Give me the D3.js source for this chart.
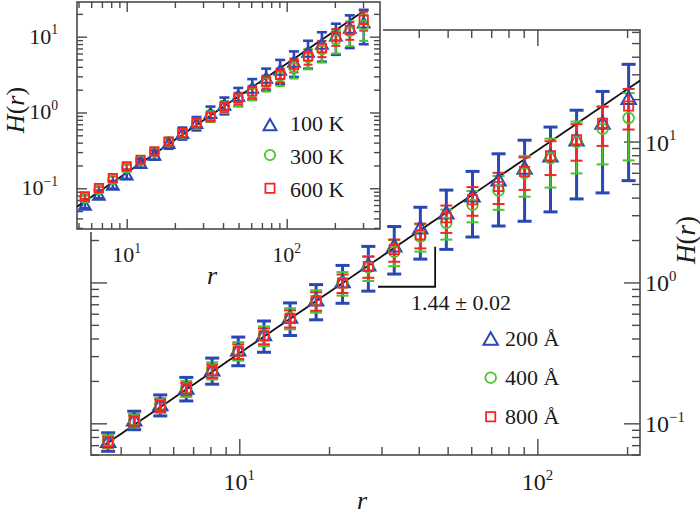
<!DOCTYPE html>
<html><head><meta charset="utf-8">
<script src="https://cdn.jsdelivr.net/npm/d3@7"></script>
<style>
body{margin:0;background:#fff}
svg{display:block}
text{font-family:"Liberation Serif","Times New Roman",serif;fill:#1a1a1a}
</style></head><body>
<svg id="c" width="700" height="514"></svg>
<script>
// ---------------- data ----------------
const mainR   = [3.63,4.44,5.43,6.64,8.11,9.92,12.1,14.8,18.1,22.2,27.1,33.1,40.5,49.5,60.6,74.1,90.6,110.7,135.4,165.5,202.4];
const main200 = [0.0745,0.106,0.136,0.178,0.240,0.333,0.426,0.568,0.754,1.016,1.335,1.82,2.44,3.12,4.12,5.35,6.47,7.92,10.3,13.5,20.3];
const main400 = [0.075,0.105,0.135,0.177,0.238,0.328,0.420,0.560,0.745,0.995,1.28,1.65,2.12,2.65,3.56,4.49,5.97,7.6,9.9,12.3,14.7];
const main800 = [0.074,0.104,0.134,0.176,0.236,0.325,0.418,0.556,0.740,0.990,1.30,1.71,2.18,2.88,3.86,4.80,6.13,7.92,10.3,13.5,17.9];
const main200Err = [0.15,0.15,0.17,0.19,0.21,0.23,0.25,0.26,0.28,0.30,0.35,0.37,0.40,0.45,0.49,0.53,0.58,0.60,0.62,0.68,0.74];
const main400Err = [0.11,0.11,0.12,0.13,0.14,0.15,0.16,0.17,0.18,0.19,0.20,0.21,0.22,0.24,0.25,0.27,0.32,0.38,0.40,0.44,0.50];
const main800Err = [0.09,0.09,0.10,0.10,0.11,0.12,0.13,0.14,0.15,0.15,0.17,0.18,0.20,0.22,0.23,0.25,0.26,0.27,0.29,0.31,0.32];
const mainLegend = ["200 Å","400 Å","800 Å"];

const insetR   = [5.48,6.70,8.19,10.0,12.2,14.9,18.3,22.3,27.3,33.4,40.8,49.8,60.9,74.4,91.0,111,136,166,203,248,303];
const inset100 = [0.0606,0.082,0.111,0.151,0.215,0.277,0.395,0.535,0.725,0.98,1.26,1.66,2.12,2.87,3.66,4.67,6.31,8.06,10.3,13.1,15.3];
const inset300 = [0.074,0.096,0.130,0.185,0.232,0.300,0.410,0.530,0.720,0.90,1.20,1.52,1.85,2.48,3.02,3.9,5.3,6.7,9.1,11.7,14.2];
const inset600 = [0.078,0.1006,0.136,0.194,0.238,0.306,0.414,0.535,0.725,0.886,1.20,1.55,1.89,2.56,3.14,4.26,5.48,7.08,10.1,12.3,16.7];
const inset100Err = [0.10,0.10,0.11,0.12,0.13,0.14,0.16,0.18,0.20,0.22,0.25,0.27,0.30,0.32,0.35,0.37,0.40,0.42,0.44,0.46,0.48];
const inset300Err = [0.08,0.08,0.09,0.10,0.11,0.12,0.13,0.14,0.15,0.17,0.18,0.20,0.22,0.24,0.26,0.28,0.30,0.32,0.34,0.36,0.38];
const inset600Err = [0.07,0.07,0.08,0.08,0.09,0.10,0.11,0.12,0.13,0.14,0.15,0.17,0.18,0.19,0.20,0.21,0.22,0.24,0.25,0.26,0.28];
const insetLegend = ["100 K","300 K","600 K"];

const fitExponent = 1.44;
const mainFit  = [0.0114, 3.55, 221];   // prefactor, r start, r end
const insetFit = [0.00582, 4.89, 296];
const slopeLabel = "1.44 ± 0.02";
const bracketR = [29.2, 45.4];          // horizontal extent (r)
const bracketH = [0.932, 1.79];         // bottom, top (H)

const xMajor = [10,100];
const yMajor = [0.1,1,10];
const xExp = ["1","2"];
const yExp = ["−1","0","1"];

// ---------------- style ----------------
const BLUE="#2a48b4", GREEN="#4cc42c", RED="#f22626", AX="#4a4a4a";
const svg=d3.select("#c");

function minorTicks(lo,hi){
  const out=[];
  for(let e=-3;e<=3;e++){for(let m=2;m<=9;m++){const v=m*Math.pow(10,e); if(v>=lo&&v<=hi) out.push(v);}}
  return out;
}
function supText(g,x,y,base,exp,anchor,size){
  const t=g.append("text").attr("x",x).attr("y",y).attr("text-anchor",anchor).style("font-size",size+"px");
  t.append("tspan").text(base);
  t.append("tspan").attr("dy",-size*0.42).style("font-size",(size*0.62)+"px").text(exp);
  return t;
}
function hlabel(g,x,y,size,rot){
  const t=g.append("text").attr("transform",`translate(${x},${y}) rotate(${rot})`).attr("text-anchor","middle").style("font-size",size+"px");
  t.append("tspan").style("font-style","italic").text("H");
  t.append("tspan").text("(");
  t.append("tspan").style("font-style","italic").text("r");
  t.append("tspan").text(")");
}

function panel(cfg){
  const g=svg.append("g");
  const x=d3.scaleLog().domain(cfg.xd).range(cfg.xr);
  const y=d3.scaleLog().domain(cfg.yd).range(cfg.yr);
  const [x0,x1]=cfg.xr, [y1,y0]=cfg.yr;
  const id="clip"+cfg.name;
  g.append("clipPath").attr("id",id).append("rect").attr("x",x0).attr("y",y0).attr("width",x1-x0).attr("height",y1-y0);

  // axes (ticks inward on all sides)
  const xmin=minorTicks(cfg.xd[0],cfg.xd[1]), ymin=minorTicks(cfg.yd[0],cfg.yd[1]);
  const mkAx=i=>{ if(i==0) return d3.axisBottom(x); if(i==1) return d3.axisTop(x); if(i==2) return d3.axisLeft(y); return d3.axisRight(y);};
  const sides=[
    [`translate(0,${y1})`,xMajor,xmin],
    [`translate(0,${y0})`,xMajor,xmin],
    [`translate(${x0},0)`,yMajor,ymin],
    [`translate(${x1},0)`,yMajor,ymin]
  ];
  sides.forEach(([tr,maj,mn],i)=>{
    [[maj,cfg.major],[mn,cfg.minor]].forEach(([vals,len])=>{
      const a=g.append("g").attr("transform",tr).call(mkAx(i).tickValues(vals).tickSize(-len).tickFormat(""));
      a.select(".domain").remove();
      a.selectAll("line").attr("stroke",AX).attr("stroke-width",1.4);
    });
  });
  g.append("rect").attr("x",x0).attr("y",y0).attr("width",x1-x0).attr("height",y1-y0)
    .attr("fill","none").attr("stroke",AX).attr("stroke-width",1.6);

  // fit line
  const fr=d3.range(0,101).map(i=>cfg.fit[1]*Math.pow(cfg.fit[2]/cfg.fit[1],i/100));
  g.append("path").attr("clip-path",`url(#${id})`)
    .attr("d",d3.line().x(r=>x(r)).y(r=>y(cfg.fit[0]*Math.pow(r,fitExponent)))(fr))
    .attr("fill","none").attr("stroke","#111").attr("stroke-width",cfg.lw);

  // error bars
  const ser=cfg.series;
  ser.forEach(s=>{
    const eg=g.append("g").attr("stroke",s.color).attr("stroke-width",s.bw).attr("clip-path",`url(#${id})`);
    cfg.r.forEach((r,i)=>{
      const v=s.v[i], e=s.e[i]*v, xx=x(r), ya=y(v+e), yb=y(Math.max(v-e,1e-6));
      eg.append("line").attr("x1",xx).attr("x2",xx).attr("y1",ya).attr("y2",yb);
      eg.append("line").attr("x1",xx-s.cap/2).attr("x2",xx+s.cap/2).attr("y1",ya).attr("y2",ya);
      eg.append("line").attr("x1",xx-s.cap/2).attr("x2",xx+s.cap/2).attr("y1",yb).attr("y2",yb);
    });
  });
  // markers
  ser.forEach(s=>{
    const sym=d3.symbol().type(s.shape).size(s.size);
    g.append("g").selectAll("path").data(cfg.r).join("path")
      .attr("transform",(r,i)=>`translate(${x(r)},${y(s.v[i])+(s.shape===d3.symbolTriangle?1.5:0)})`)
      .attr("d",sym()).attr("fill","none").attr("stroke",s.color).attr("stroke-width",s.mw);
  });
  return {g,x,y};
}

// ---------------- main panel ----------------
const mainSeries=[
  {v:main200,e:main200Err,color:BLUE,bw:3,cap:14,shape:d3.symbolTriangle,size:90,mw:2},
  {v:main400,e:main400Err,color:GREEN,bw:2,cap:12,shape:d3.symbolCircle,size:90,mw:1.8},
  {v:main800,e:main800Err,color:RED,bw:2,cap:12,shape:d3.symbolSquare,size:85,mw:1.8}
];
const M=panel({name:"m",xd:[3.18,221],xr:[91,640],yd:[0.0596,61.9],yr:[455,30],
  r:mainR,series:mainSeries,fit:mainFit,major:16,minor:8,lw:1.8});

// main tick labels
xMajor.forEach((v,i)=>supText(M.g,M.x(v),490,"10",xExp[i],"middle",24));
yMajor.forEach((v,i)=>supText(M.g,645,M.y(v)+9,"10",yExp[i],"start",24));
M.g.append("text").attr("x",362).attr("y",509).attr("text-anchor","middle").style("font-size","26px").style("font-style","italic").text("r");
hlabel(M.g,695,240,27,-90);

// slope bracket + label
M.g.append("path").attr("d",`M${M.x(bracketR[0])},${M.y(bracketH[0])}H${M.x(bracketR[1])}V${M.y(bracketH[1])}`)
  .attr("fill","none").attr("stroke","#111").attr("stroke-width",1.8);
M.g.append("text").attr("x",411).attr("y",310).style("font-size","22px").text(slopeLabel);

// main legend
mainSeries.forEach((s,i)=>{
  const cy=[339,377.7,416.7][i];
  M.g.append("path").attr("transform",`translate(490.7,${cy+(i==0?1.5:0)})`).attr("d",d3.symbol().type(s.shape).size(s.size)())
    .attr("fill","none").attr("stroke",s.color).attr("stroke-width",s.mw);
  M.g.append("text").attr("x",505).attr("y",[346,384.5,423.5][i]).style("font-size","22px").text(mainLegend[i]);
});

// ---------------- inset ----------------
svg.append("rect").attr("x",0).attr("y",0).attr("width",383).attr("height",232).attr("fill","#fff");
const insetSeries=[
  {v:inset100,e:inset100Err,color:BLUE,bw:2.6,cap:10,shape:d3.symbolTriangle,size:60,mw:2},
  {v:inset300,e:inset300Err,color:GREEN,bw:2,cap:9,shape:d3.symbolCircle,size:70,mw:1.8},
  {v:inset600,e:inset600Err,color:RED,bw:2,cap:9,shape:d3.symbolSquare,size:70,mw:1.8}
];
const I=panel({name:"i",xd:[4.89,383],xr:[77,380],yd:[0.029,28.7],yr:[229,2],
  r:insetR,series:insetSeries,fit:insetFit,major:10,minor:6,lw:1.8});
xMajor.forEach((v,i)=>supText(I.g,I.x(v),262,"10",xExp[i],"middle",22));
yMajor.forEach((v,i)=>supText(I.g,58,I.y(v)+7,"10",yExp[i],"end",22));
I.g.append("text").attr("x",212).attr("y",284).attr("text-anchor","middle").style("font-size","26px").style("font-style","italic").text("r");
hlabel(I.g,24,110,26,-90);
insetSeries.forEach((s,i)=>{
  const cy=[125,155,188.3][i];
  I.g.append("path").attr("transform",`translate(270,${cy+(i==0?1.5:0)})`).attr("d",d3.symbol().type(s.shape).size(s.size*1.2)())
    .attr("fill","none").attr("stroke",s.color).attr("stroke-width",s.mw);
  I.g.append("text").attr("x",290).attr("y",[131,163.5,196.5][i]).style("font-size","22px").text(insetLegend[i]);
});
</script></body></html>
